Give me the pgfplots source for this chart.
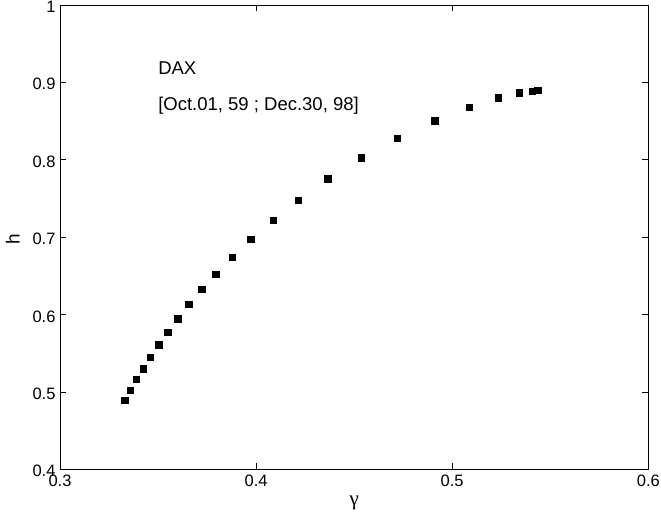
\documentclass[border=0pt]{standalone}
\usepackage{pgfplots}
\pgfplotsset{compat=1.18}
\usepackage{fontspec}
\setmainfont{Liberation Sans}
\newfontfamily\symfont{Liberation Serif}

\begin{document}
\begin{tikzpicture}[font=\fontsize{18.5}{20}\selectfont]
\path[use as bounding box] (-60pt,-53.7pt) rectangle (601pt,469.3pt);
\begin{axis}[
    at={(0,0)}, anchor=origin,
    scale only axis,
    width=588.3pt, height=464.3pt,
    xmin=0.3, xmax=0.6, ymin=0.4, ymax=1,
    xtick={0.3,0.4,0.5,0.6},
    ytick={0.4,0.5,0.6,0.7,0.8,0.9,1},
    tick align=inside,
    tick pos=both,
    major tick length=6pt,
    axis line style={line width=0.9pt},
    every tick/.style={line width=0.7pt, black},
    /pgf/number format/assume math mode=true,
    tick label style={font=\fontsize{16.5}{18}\selectfont},
    xticklabel style={yshift=-2pt},
    yticklabel style={xshift=-1pt, yshift=-1.8pt},
    xlabel={{\symfont γ}},
    ylabel={h},
    xlabel style={at={(axis description cs:0.5,-0.0726)}, anchor=center, font=\fontsize{21}{22}\selectfont},
    ylabel style={at={(axis description cs:-0.0804,0.496)}, anchor=center, font=\fontsize{19}{20}\selectfont},
]
\addplot[only marks, mark=square*, mark size=3.3pt, mark options={line width=0.3pt, fill=black, draw=black}]
coordinates {
    (0.3330,0.4892)(0.3357,0.5021)(0.3389,0.5163)(0.3423,0.5300)
    (0.3460,0.5451)(0.3503,0.5610)(0.3549,0.5774)(0.3600,0.5946)
    (0.3656,0.6132)(0.3721,0.6326)(0.3794,0.6524)(0.3877,0.6744)
    (0.3972,0.6976)(0.4086,0.7218)(0.4215,0.7480)(0.4364,0.7754)
    (0.4536,0.8027)(0.4720,0.8281)(0.4909,0.8505)(0.5086,0.8682)
    (0.5234,0.8802)(0.5342,0.8867)(0.5407,0.8889)(0.5436,0.8902)
};
\node[anchor=west, inner sep=0pt] at (axis cs:0.35,0.9186) {DAX};
\node[anchor=west, inner sep=0pt] at (axis cs:0.35,0.870) {[Oct.01, 59 ; Dec.30, 98]};
\end{axis}
\end{tikzpicture}
\end{document}
